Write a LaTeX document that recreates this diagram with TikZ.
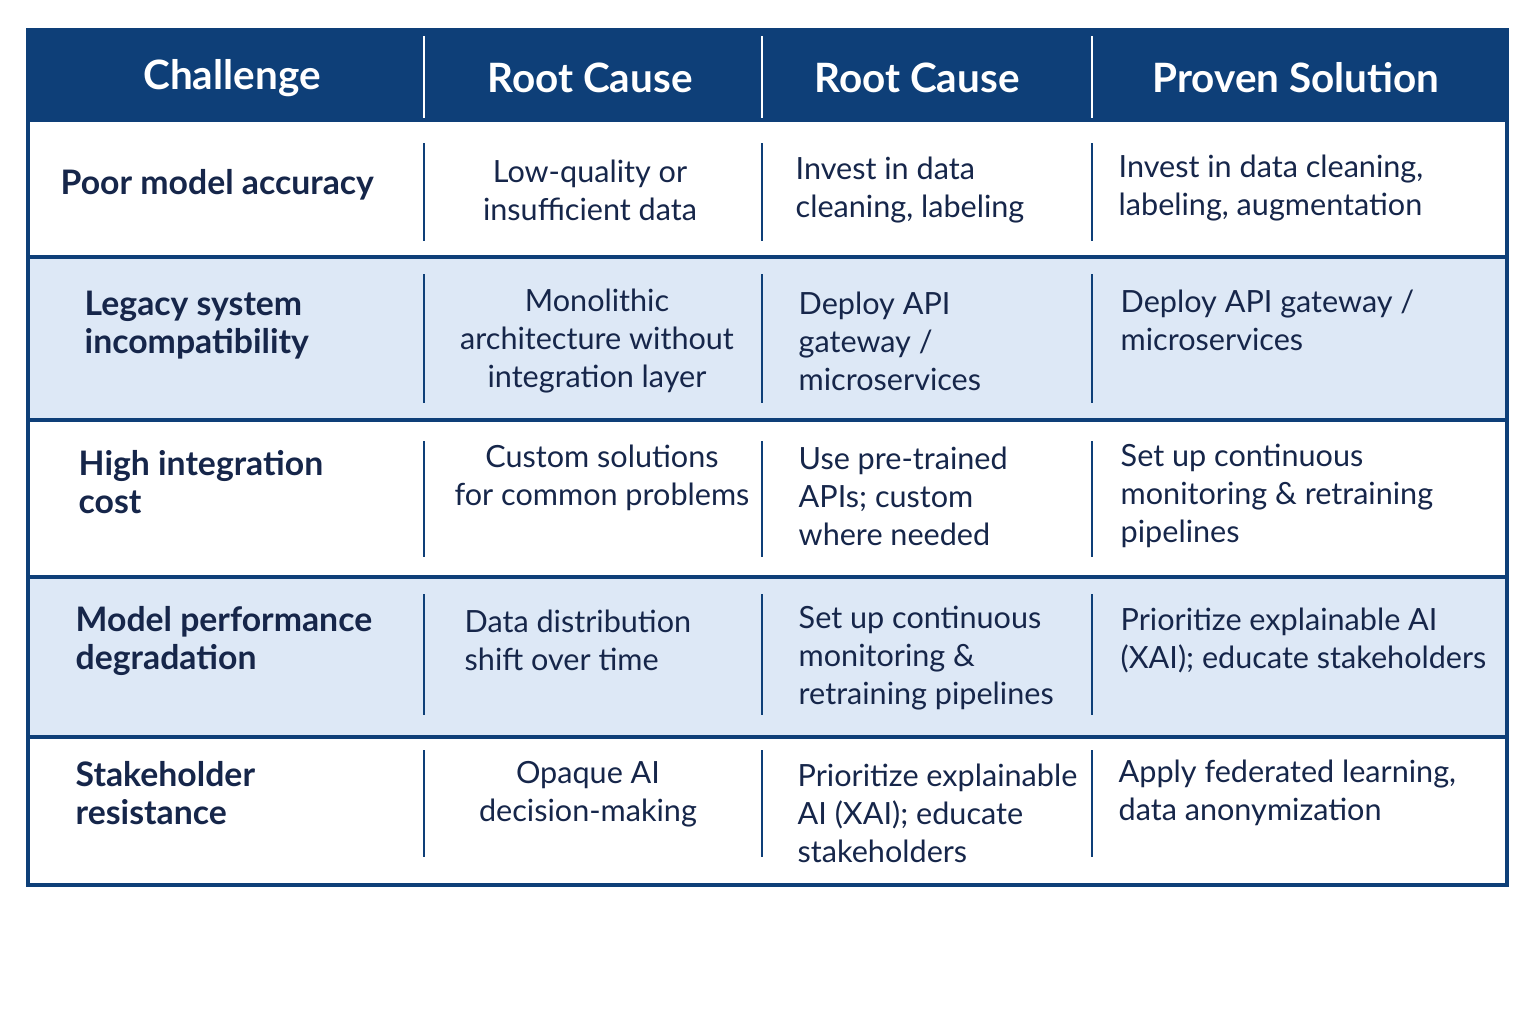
\documentclass[tikz,border=0pt]{standalone}
\usepackage{fontspec}
\setmainfont{Lato}
\usepackage{xcolor}
\definecolor{navy}{HTML}{0E3F78}
\definecolor{ink}{HTML}{16264A}
\definecolor{pale}{HTML}{DDE8F6}
\begin{document}
\begin{tikzpicture}[x=0.01cm,y=-0.01cm,
  head/.style={text=white,font=\fontsize{11.5}{13}\selectfont\bfseries},
  chal/.style={anchor=west,align=left,inner sep=0pt,text=ink,font=\fontsize{9.6}{10.6}\selectfont\bfseries},
  cell/.style={anchor=west,align=left,inner sep=0pt,text=ink,font=\fontsize{8.7}{10.8}\selectfont},
  ccell/.style={align=center,inner sep=0pt,text=ink,font=\fontsize{8.7}{10.8}\selectfont},
  sep/.style={navy,line width=0.6pt}]
\useasboundingbox[fill=white] (0,0) rectangle (1536,1024);
%%%%% Rows %%%%%
\fill[navy] (28,30) rectangle (1507,122);
\fill[pale] (28,257) rectangle (1507,420);
\fill[pale] (28,577) rectangle (1507,737);
\foreach \y in {257,420,577,737}{
\draw[navy,line width=1.1pt] (28,\y)--(1507,\y);
}
\draw[navy,line width=1.3pt] (28,30) rectangle (1507,885);
%%%%% Column lines %%%%%
\foreach \x in {424,762,1092}{
\draw[white,line width=0.8pt] (\x,36)--(\x,118);
\draw[sep] (\x,143)--(\x,241);
\draw[sep] (\x,274)--(\x,403);
\draw[sep] (\x,441)--(\x,557);
\draw[sep] (\x,594)--(\x,715);
\draw[sep] (\x,750)--(\x,857);
}
%%%%% Header %%%%%
\node[head] (h1) at (232,78) {Challenge};
\node[head] (h2) at (590,78) {Root Cause};
\node[head] (h3) at (917,78) {Root Cause};
\node[head] (h4) at (1296,78) {Proven Solution};
%%%%% Body %%%%%
\node[chal] (r1c1) at (60,185) {Poor model accuracy};
\node[ccell] (r1c2) at (590,190) {Low-quality or\\insufficient data};
\node[cell] (r1c3) at (795,190) {Invest in data\\cleaning, labeling};
\node[cell] (r1c4) at (1118,188) {Invest in data cleaning,\\labeling, augmentation};

\node[chal] (r2c1) at (84,325) {Legacy system\\incompatibility};
\node[ccell] (r2c2) at (597,341) {Monolithic\\architecture without\\integration layer};
\node[cell] (r2c3) at (798,341) {Deploy API\\gateway /\\microservices};
\node[cell] (r2c4) at (1120,320) {Deploy API gateway /\\microservices};

\node[chal] (r3c1) at (78,482) {High integration\\cost};
\node[ccell] (r3c2) at (602,478) {Custom solutions\\for common problems};
\node[cell] (r3c3) at (798,496) {Use pre-trained\\APIs; custom\\where needed};
\node[cell] (r3c4) at (1120,496) {Set up continuous\\monitoring \& retraining\\pipelines};

\node[chal] (r4c1) at (75,641) {Model performance\\degradation};
\node[cell] (r4c2) at (464,640) {Data distribution\\shift over time};
\node[cell] (r4c3) at (798,658) {Set up continuous\\monitoring \&\\retraining pipelines};
\node[cell] (r4c4) at (1120,640) {Prioritize explainable AI\\(XAI); educate stakeholders};

\node[chal] (r5c1) at (75,793) {Stakeholder\\resistance};
\node[ccell] (r5c2) at (588,794) {Opaque AI\\decision-making};
\node[cell] (r5c3) at (797,813) {Prioritize explainable\\AI (XAI); educate\\stakeholders};
\node[cell] (r5c4) at (1118,793) {Apply federated learning,\\data anonymization};
\end{tikzpicture}
\end{document}
